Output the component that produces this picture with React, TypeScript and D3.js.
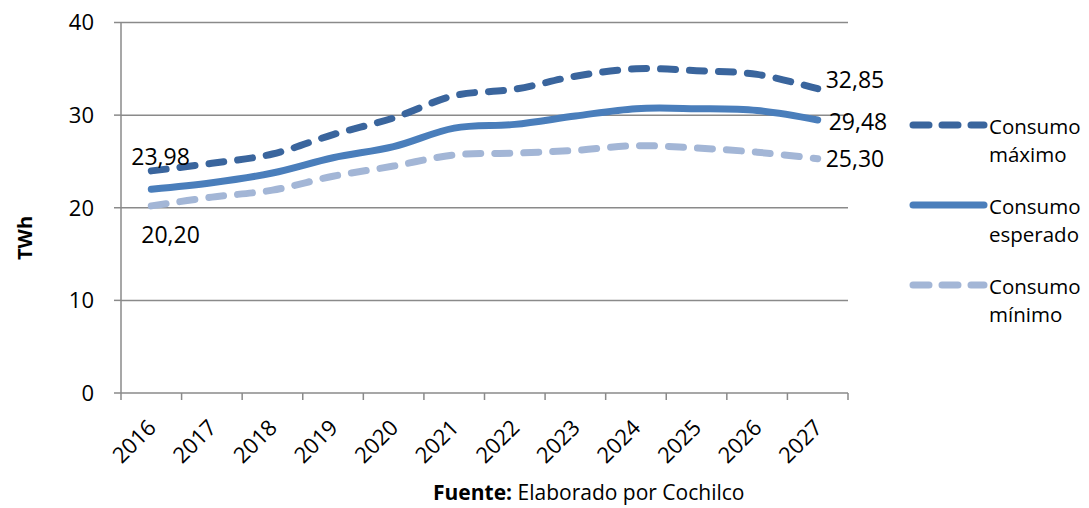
import React from "react";
import * as d3 from "d3";

const years = ["2016","2017","2018","2019","2020","2021","2022","2023","2024","2025","2026","2027"];
const maxVals = [23.98, 24.8, 25.8, 27.9, 29.7, 32.1, 32.8, 34.2, 35.0, 34.8, 34.4, 32.85];
const expVals = [22.0, 22.7, 23.75, 25.4, 26.6, 28.6, 29.0, 29.9, 30.7, 30.7, 30.5, 29.48];
const minVals = [20.2, 21.15, 21.9, 23.4, 24.5, 25.7, 25.9, 26.2, 26.7, 26.45, 26.0, 25.3];
const yTicks = [0, 10, 20, 30, 40];
const seriesNames = [["Consumo", "máximo"], ["Consumo", "esperado"], ["Consumo", "mínimo"]];

const W = 1089, H = 508;
const FONT = "'Open Sans', 'Noto Sans', sans-serif";

export default function App() {
  const x = d3.scaleBand<string>().domain(years).range([121, 848]);
  const cx = (d: string) => (x(d) as number) + x.bandwidth() / 2;
  const y = d3.scaleLinear().domain([0, 40]).range([393, 22.5]);
  const line = d3
    .line<number>()
    .x((_, i) => cx(years[i]))
    .y((v) => y(v))
    .curve(d3.curveCatmullRom.alpha(0.5));

  const series = [
    { vals: maxVals, color: "#3a659d", dash: "15 14" },
    { vals: expVals, color: "#4a7ebb", dash: "" },
    { vals: minVals, color: "#a3b6d6", dash: "15 14" },
  ];
  const grid = "#8a8a8a";
  const last = years[years.length - 1];
  const first = years[0];
  const fmt = (v: number) => v.toFixed(2).replace(".", ",");

  return (
    <svg width={W} height={H} style={{ position: "absolute", left: 0, top: 0, background: "#fff" }} fontFamily={FONT}>
      {yTicks.map((t) => (
        <g key={t}>
          {t > 0 && <line x1={121} x2={848} y1={y(t)} y2={y(t)} stroke={grid} strokeWidth={1.5} />}
          <line x1={114} x2={121} y1={y(t)} y2={y(t)} stroke={grid} strokeWidth={1.5} />
          <text x={94} y={y(t)} dy="0.36em" textAnchor="end" fontSize={22} fill="#000">{t}</text>
        </g>
      ))}
      <line x1={121} x2={121} y1={y(40)} y2={y(0)} stroke={grid} strokeWidth={1.5} />
      <line x1={121} x2={848} y1={y(0)} y2={y(0)} stroke={grid} strokeWidth={1.5} />
      {[...years.map((d) => x(d) as number), 848].map((p, i) => (
        <line key={i} x1={p} x2={p} y1={y(0)} y2={y(0) + 7} stroke={grid} strokeWidth={1.5} />
      ))}
      {years.map((d) => (
        <text key={d} transform={`translate(${cx(d) + 6},${y(0) + 36}) rotate(-45)`} textAnchor="end" fontSize={22} fill="#000">{d}</text>
      ))}
      <text transform={`translate(32,238) rotate(-90)`} textAnchor="middle" fontSize={20} fontWeight="bold" fill="#000">TWh</text>

      {series.map((s, i) => (
        <path key={i} d={line(s.vals) as string} fill="none" stroke={s.color} strokeWidth={7}
          strokeDasharray={s.dash || undefined} strokeLinecap="round" strokeLinejoin="round" />
      ))}

      <text x={cx(first) - 20} y={y(maxVals[0]) - 6} fontSize={23} fill="#000">{fmt(maxVals[0])}</text>
      <text x={cx(first) - 10} y={y(minVals[0]) + 37} fontSize={23} fill="#000">{fmt(minVals[0])}</text>
      <text x={cx(last) + 8} y={y(maxVals[11]) - 1} fontSize={23} fill="#000">{fmt(maxVals[11])}</text>
      <text x={cx(last) + 11} y={y(expVals[11]) + 10} fontSize={23} fill="#000">{fmt(expVals[11])}</text>
      <text x={cx(last) + 8} y={y(minVals[11]) + 8} fontSize={23} fill="#000">{fmt(minVals[11])}</text>

      {series.map((s, i) => {
        const ly = 125 + i * 80;
        return (
          <g key={i}>
            <line x1={913} x2={984} y1={ly} y2={ly} stroke={s.color} strokeWidth={7}
              strokeDasharray={s.dash ? "16 13" : undefined} strokeLinecap="round" />
            <text x={989} y={ly + 9} fontSize={20.5} fill="#000">{seriesNames[i][0]}</text>
            <text x={989} y={ly + 37} fontSize={20.5} fill="#000">{seriesNames[i][1]}</text>
          </g>
        );
      })}

      <text x={433} y={500} fontSize={21} fill="#000">
        <tspan fontWeight="bold">Fuente:</tspan>
        <tspan> Elaborado por Cochilco</tspan>
      </text>
    </svg>
  );
}
